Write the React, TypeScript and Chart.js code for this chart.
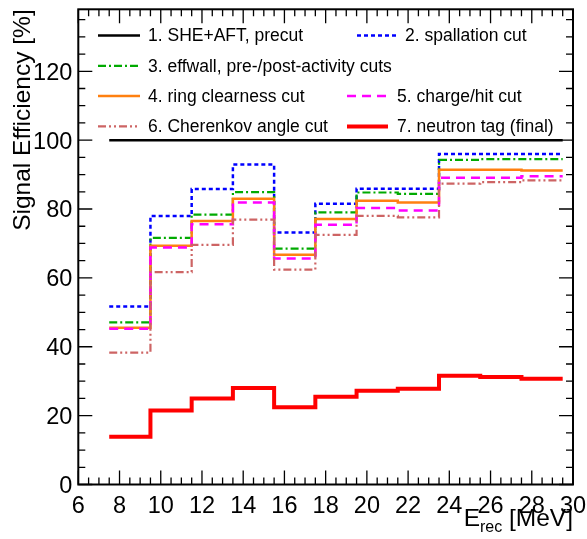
import React, { useEffect, useRef } from "react";
import { Chart, registerables } from "chart.js";

Chart.register(...registerables);

// ---- data ----
const binEdges = [7.5, 9.5, 11.5, 13.5, 15.5, 17.5, 19.5, 21.5, 23.5, 25.5, 27.5, 29.5];
const precut = [100, 100, 100, 100, 100, 100, 100, 100, 100, 100, 100];
const spallation = [51.7, 78.0, 85.8, 92.9, 73.2, 81.5, 85.9, 85.9, 96.0, 96.0, 96.0];
const effwall = [47.1, 71.6, 78.4, 84.9, 68.5, 79.0, 84.8, 84.4, 94.3, 94.5, 94.5];
const ringClearness = [45.5, 69.3, 76.5, 83.0, 66.7, 77.1, 82.4, 81.9, 91.4, 91.4, 91.2];
const chargeHit = [45.2, 68.8, 75.6, 81.9, 65.6, 75.4, 80.3, 79.6, 89.1, 89.1, 89.5];
const cherenkov = [38.3, 61.7, 69.6, 76.9, 62.4, 72.5, 78.0, 77.6, 87.4, 87.8, 88.3];
const neutronTag = [13.9, 21.5, 25.0, 28.0, 22.4, 25.5, 27.2, 27.8, 31.6, 31.2, 30.7];

const xTickValues = [6, 8, 10, 12, 14, 16, 18, 20, 22, 24, 26, 28, 30];
const yTickValues = [0, 20, 40, 60, 80, 100, 120];

const labels = [
  "1. SHE+AFT, precut",
  "2. spallation cut",
  "3. effwall, pre-/post-activity cuts",
  "4. ring clearness cut",
  "5. charge/hit cut",
  "6. Cherenkov angle cut",
  "7. neutron tag (final)",
];

const FONT = "'Liberation Sans', Arial, Helvetica, sans-serif";

type Style = { color: string; width: number; dash: number[] };
const styles: Style[] = [
  { color: "#000000", width: 2.5, dash: [] },
  { color: "#0000ff", width: 2.5, dash: [4, 3] },
  { color: "#00aa00", width: 2.2, dash: [8, 3, 2, 3] },
  { color: "#ff8010", width: 2.5, dash: [] },
  { color: "#ff00ff", width: 2.5, dash: [9, 6] },
  { color: "#cd6464", width: 2.2, dash: [8, 3, 2, 3, 2, 3] },
  { color: "#ff0000", width: 4, dash: [] },
];

const seriesList = [precut, spallation, effwall, ringClearness, chargeHit, cherenkov, neutronTag];

function histPoints(values: number[]) {
  const pts = values.map((v, i) => ({ x: binEdges[i], y: v }));
  pts.push({ x: binEdges[binEdges.length - 1], y: values[values.length - 1] });
  return pts;
}

// legend layout: [label index, line x0, line x1, text x, row y]
const legendLayout: [number, number, number, number, number][] = [
  [0, 98, 140, 148, 35.5],
  [1, 357, 397, 405, 35.5],
  [2, 98, 140, 148, 65.8],
  [3, 98, 140, 148, 96.1],
  [4, 347, 387, 397, 96.1],
  [5, 98, 140, 148, 126.4],
  [6, 347, 388, 397, 126.4],
];

const rootStyle = {
  id: "rootStyle",
  afterDatasetsDraw(chart: any) {
    const { ctx, chartArea: a } = chart;
    const x = chart.scales.x;
    const y = chart.scales.y;
    ctx.save();

    // ticks on all four sides, inward
    ctx.strokeStyle = "#000";
    ctx.lineWidth = 1.3;
    ctx.setLineDash([]);
    ctx.beginPath();
    for (let v = x.min; v <= x.max + 1e-6; v += 0.5) {
      const px = x.getPixelForValue(v);
      const major = Math.abs(v / 2 - Math.round(v / 2)) < 1e-6;
      const len = major ? 14 : 7;
      ctx.moveTo(px, a.bottom);
      ctx.lineTo(px, a.bottom - len);
      ctx.moveTo(px, a.top);
      ctx.lineTo(px, a.top + len);
    }
    for (let v = y.min; v <= y.max + 1e-6; v += 5) {
      const py = y.getPixelForValue(v);
      const major = v % 20 === 0;
      const len = major ? 14 : 7;
      ctx.moveTo(a.left, py);
      ctx.lineTo(a.left + len, py);
      ctx.moveTo(a.right, py);
      ctx.lineTo(a.right - len, py);
    }
    ctx.stroke();

    // frame
    ctx.lineWidth = 2;
    ctx.strokeRect(a.left, a.top, a.right - a.left, a.bottom - a.top);

    // tick labels
    ctx.fillStyle = "#000";
    ctx.font = `23.5px ${FONT}`;
    ctx.textBaseline = "alphabetic";
    ctx.textAlign = "center";
    for (const v of xTickValues) {
      ctx.fillText(String(v), x.getPixelForValue(v), a.bottom + 28);
    }
    ctx.textAlign = "right";
    for (const v of yTickValues) {
      ctx.fillText(String(v), a.left - 6, y.getPixelForValue(v) + 8.4);
    }

    // x title with subscript, right-aligned to axis end
    const big = `24.5px ${FONT}`;
    const small = `16px ${FONT}`;
    ctx.font = big;
    const wE = ctx.measureText("E").width;
    const wRest = ctx.measureText(" [MeV]").width;
    ctx.font = small;
    const wSub = ctx.measureText("rec").width;
    let tx = a.right - (wE + wSub + wRest);
    const tb = 525.5;
    ctx.textAlign = "left";
    ctx.font = big;
    ctx.fillText("E", tx, tb);
    tx += wE;
    ctx.font = small;
    ctx.fillText("rec", tx, tb + 6);
    tx += wSub;
    ctx.font = big;
    ctx.fillText(" [MeV]", tx, tb);

    // y title rotated, aligned to top
    ctx.save();
    ctx.translate(30, a.top);
    ctx.rotate(-Math.PI / 2);
    ctx.textAlign = "right";
    ctx.font = `24.5px ${FONT}`;
    ctx.fillText("Signal Efficiency [%]", 0, 0);
    ctx.restore();

    // legend
    ctx.font = `17.5px ${FONT}`;
    ctx.textAlign = "left";
    ctx.textBaseline = "middle";
    for (const [idx, x0, x1, txp, ry] of legendLayout) {
      const s = styles[idx];
      ctx.strokeStyle = s.color;
      ctx.lineWidth = s.width;
      ctx.setLineDash(s.dash);
      ctx.lineCap = "butt";
      ctx.beginPath();
      ctx.moveTo(x0, ry);
      ctx.lineTo(x1, ry);
      ctx.stroke();
      ctx.setLineDash([]);
      ctx.fillStyle = "#000";
      ctx.fillText(labels[idx], txp, ry + 1);
    }

    ctx.restore();
  },
};

export default function App() {
  const canvasRef = useRef<HTMLCanvasElement | null>(null);

  useEffect(() => {
    document.body.style.margin = "0";
    const canvas = canvasRef.current;
    if (!canvas) return;
    const datasets = seriesList.map((vals, i) => ({
      label: labels[i],
      data: histPoints(vals),
      stepped: "before" as const,
      borderColor: styles[i].color,
      borderWidth: styles[i].width,
      borderDash: styles[i].dash,
      borderCapStyle: "butt" as const,
      borderJoinStyle: "miter" as const,
      pointRadius: 0,
      fill: false,
      tension: 0,
      order: 7 - i,
    }));
    const chart = new Chart(canvas, {
      type: "line",
      data: { datasets },
      options: {
        animation: false,
        responsive: false,
        devicePixelRatio: 1,
        layout: { padding: { top: 9.3, right: 14, left: 0, bottom: 0 } },
        plugins: { legend: { display: false }, tooltip: { enabled: false } },
        scales: {
          x: {
            type: "linear",
            min: 6,
            max: 30,
            grid: { display: false },
            border: { display: false },
            ticks: { display: false, stepSize: 2 },
            afterFit: (s: any) => {
              s.height = 54.5;
            },
          },
          y: {
            type: "linear",
            min: 0,
            max: 138,
            grid: { display: false },
            border: { display: false },
            ticks: { display: false, stepSize: 20 },
            afterFit: (s: any) => {
              s.width = 78.3;
            },
          },
        },
      },
      plugins: [rootStyle],
    });
    return () => chart.destroy();
  }, []);

  return (
    <div style={{ position: "absolute", left: 0, top: 0, width: 587, height: 539, background: "#fff" }}>
      <canvas ref={canvasRef} width={587} height={539} style={{ display: "block" }} />
    </div>
  );
}
